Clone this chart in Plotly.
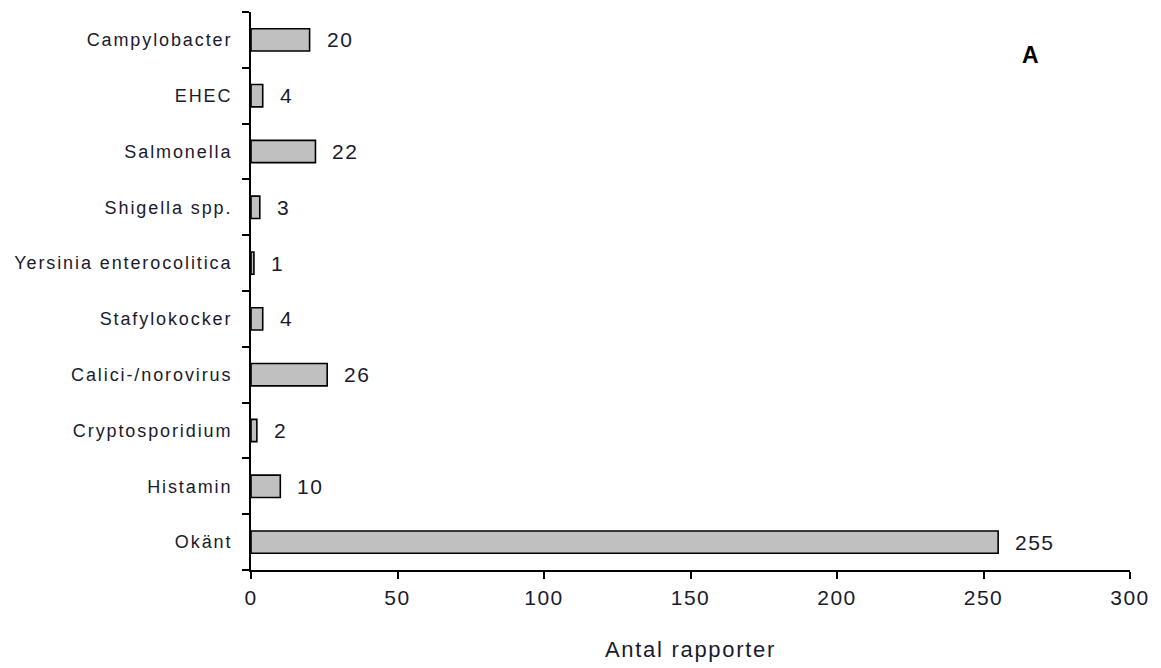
import plotly.graph_objects as go

categories = ["Campylobacter", "EHEC", "Salmonella", "Shigella spp.", "Yersinia enterocolitica",
              "Stafylokocker", "Calici-/norovirus", "Cryptosporidium", "Histamin", "Okänt"]
values = [20, 4, 22, 3, 1, 4, 26, 2, 10, 255]
x_ticks = [0, 50, 100, 150, 200, 250, 300]

font_family = "Liberation Sans, Arial, sans-serif"
txt_color = "#1a1a2e"


def spaced(s, px):
    return f'<span style="letter-spacing:{px}px">{s}</span>'


fig = go.Figure()
fig.add_trace(go.Bar(
    x=values, y=categories, orientation="h",
    marker=dict(color="#c0c0c0", line=dict(color="black", width=1.6)),
    width=0.4,
    hoverinfo="x+y",
))

for c, v in zip(categories, values):
    fig.add_annotation(x=v, y=c, text=spaced(v, 1.5), showarrow=False, xanchor="left",
                       xshift=15, font=dict(size=21, color=txt_color, family=font_family))

fig.add_annotation(x=0.887, y=0.923, xref="paper", yref="paper", text="<b>A</b>",
                   xanchor="center", yanchor="middle",
                   showarrow=False, font=dict(size=23, color="black", family=font_family))

fig.update_layout(
    width=1161, height=668,
    margin=dict(l=243, r=39, t=4, b=106),
    plot_bgcolor="white", paper_bgcolor="white",
    showlegend=False,
    font=dict(family=font_family, color=txt_color),
)
fig.update_xaxes(
    range=[0, 300], tickmode="array", tickvals=x_ticks, ticktext=[spaced(t, 1.5) for t in x_ticks],
    ticks="outside", ticklen=7, tickwidth=1.5, tickcolor="black",
    showline=True, linecolor="black", linewidth=2, showgrid=False, zeroline=False,
    tickfont=dict(size=21, color=txt_color), ticklabelstandoff=1,
    title=dict(text=spaced("Antal rapporter", 1.7), font=dict(size=22, color=txt_color), standoff=33),
)
fig.update_yaxes(
    categoryorder="array", categoryarray=categories, autorange="reversed",
    tickmode="array", tickvals=categories, ticktext=[spaced(c, 1.9) for c in categories],
    tickson="boundaries", ticks="outside", ticklen=7, tickwidth=1.5, tickcolor="black",
    showline=True, linecolor="black", linewidth=2, showgrid=False, zeroline=False,
    tickfont=dict(size=18, color=txt_color), ticklabelstandoff=13,
)

fig.write_html("out.html")
